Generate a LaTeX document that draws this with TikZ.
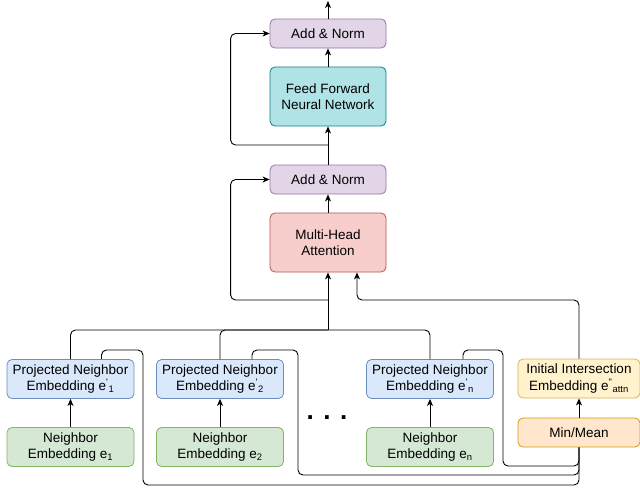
\documentclass[tikz,border=0pt]{standalone}
\usepackage{fontspec}
\setmainfont{Liberation Sans}
\usetikzlibrary{arrows.meta}

\definecolor{normfill}{HTML}{E1D5E7}\definecolor{normdraw}{HTML}{9673A6}
\definecolor{ffnfill}{HTML}{B0E3E6}\definecolor{ffndraw}{HTML}{0E8088}
\definecolor{mhafill}{HTML}{F8CECC}\definecolor{mhadraw}{HTML}{B85450}
\definecolor{projfill}{HTML}{DAE8FC}\definecolor{projdraw}{HTML}{6C8EBF}
\definecolor{nbfill}{HTML}{D5E8D4}\definecolor{nbdraw}{HTML}{82B366}
\definecolor{initfill}{HTML}{FFF2CC}\definecolor{initdraw}{HTML}{D6B656}
\definecolor{minfill}{HTML}{FFE6CC}\definecolor{mindraw}{HTML}{D79B00}

\tikzset{
  blk/.style={draw,rounded corners=5pt,align=center,inner sep=0pt,line width=0.8pt,
    font=\fontsize{13.5}{16.5}\selectfont},
  thin blk/.style={blk,minimum width=116pt,minimum height=29pt},
  tall blk/.style={blk,minimum width=116pt,minimum height=59pt},
  emb blk/.style={blk,minimum width=127pt,minimum height=39pt},
  side blk/.style={blk,minimum width=122pt},
  link/.style={line width=0.9pt,rounded corners=5pt},
  arr/.style={link,-{Stealth[length=7pt,width=6pt,inset=2pt]}},
}
\newcommand{\pr}[1]{e\textsuperscript{\textquotesingle}\textsubscript{#1}}

\begin{document}
\begin{tikzpicture}[x=1pt,y=-1pt]
  \useasboundingbox (0,0) rectangle (640,493);
  % transformer part
  \node[thin blk,fill=normfill,draw=normdraw] (topnorm) at (328,33.5) {Add \& Norm};
  \node[tall blk,fill=ffnfill,draw=ffndraw] (ffn) at (328,96.5) {Feed Forward\\Neural Network};
  \node[thin blk,fill=normfill,draw=normdraw] (midnorm) at (328,179.5) {Add \& Norm};
  \node[tall blk,fill=mhafill,draw=mhadraw] (mha) at (328,242.5) {Multi-Head\\Attention};
  % embeddings
  \node[emb blk,fill=projfill,draw=projdraw] (proj1) at (70.5,379) {Projected Neighbor\\Embedding \pr{1}};
  \node[emb blk,fill=nbfill,draw=nbdraw] (nb1) at (70.5,447) {Neighbor\\Embedding e\textsubscript{1}};
  \node[emb blk,fill=projfill,draw=projdraw] (proj2) at (220,379) {Projected Neighbor\\Embedding \pr{2}};
  \node[emb blk,fill=nbfill,draw=nbdraw] (nb2) at (220,447) {Neighbor\\Embedding e\textsubscript{2}};
  \node[emb blk,fill=projfill,draw=projdraw] (projn) at (430,379) {Projected Neighbor\\Embedding \pr{n}};
  \node[emb blk,fill=nbfill,draw=nbdraw] (nbn) at (430,447) {Neighbor\\Embedding e\textsubscript{n}};
  \node[anchor=base,font=\fontsize{26}{26}\selectfont\bfseries] (dots) at (327,419) {. . .};
  \node[side blk,minimum height=39pt,fill=initfill,draw=initdraw] (init) at (579,378.5)
    {Initial Intersection\\Embedding e\textsuperscript{\textquotedbl}\textsubscript{attn}};
  \node[side blk,minimum height=29pt,fill=minfill,draw=mindraw] (minmean) at (579,432.5) {Min/Mean};

  \coordinate (out) at (328,1);
  \coordinate (split2) at (328,145);
  \coordinate (split1) at (328,300);
  \coordinate (bus) at (328,330);
  \coordinate (mhain) at ([xshift=29pt]mha.south);

  \draw[arr] (topnorm) -- (out);
  \draw[arr] (ffn) -- (topnorm);
  \draw[arr] (midnorm) -- (ffn);
  \draw[arr] (mha) -- (midnorm);
  \draw[arr] (split2) -| ([xshift=-39pt]topnorm.west) -- (topnorm.west);
  \draw[arr] (split1) -| ([xshift=-39pt]midnorm.west) -- (midnorm.west);
  %
  \draw[link] (proj1.north) |- (bus);
  \draw[link] (proj2.north) |- (bus);
  \draw[link] (projn.north) |- (bus);
  \draw[arr] (bus) -- (mha.south);
  \draw[arr] (init.north) |- (mhain |- split1) -- (mhain);
  %
  \draw[arr] (nb1) -- (proj1);
  \draw[arr] (nb2) -- (proj2);
  \draw[arr] (nbn) -- (projn);
  \draw[arr] (minmean) -- (init);
  %
  \draw[link] ([xshift=31pt]proj1.north) |- (143,350) -- (143,485) -| (minmean.south);
  \draw[link] ([xshift=32pt]proj2.north) |- (298,350) -- (298,475) -| (minmean.south);
  \draw[link] ([xshift=33pt]projn.north) |- (503,350) -- (503,466) -| (minmean.south);
\end{tikzpicture}
\end{document}
